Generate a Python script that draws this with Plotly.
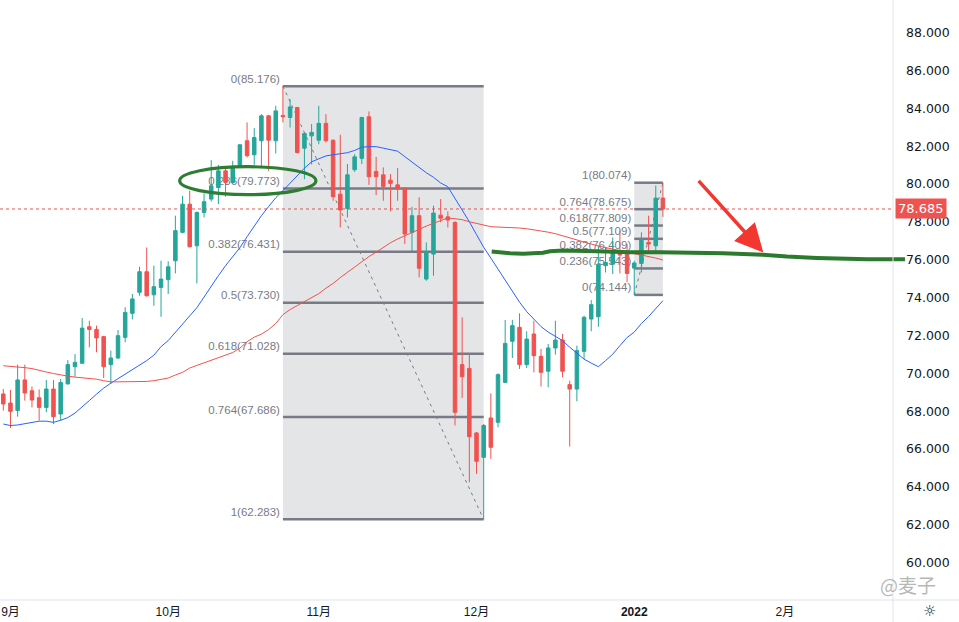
import numpy as np
import pandas as pd
import plotly.graph_objects as go

# ---------------- data ----------------
holidays = ["2021-12-24"]
dates = [d.strftime("%Y-%m-%d") for d in pd.bdate_range("2021-08-31", "2022-01-07")
         if d.strftime("%Y-%m-%d") not in holidays]

open_ = [68.91, 68.43, 68.03, 69.65, 69.08, 68.71, 68.20, 69.17, 67.85, 69.44,
         70.35, 70.53, 72.46, 72.32, 71.94, 70.46, 70.81, 71.90, 73.17, 74.28,
         75.37, 74.15, 74.54, 74.95, 75.95, 77.45, 78.94, 76.74, 78.50, 79.21,
         79.82, 80.70, 80.09, 80.92, 82.29, 81.55, 82.29, 83.61, 82.29, 83.63,
         83.52, 84.05, 81.90, 82.55, 82.32, 83.21, 82.32, 79.47, 78.71, 80.76,
         81.36, 83.56, 80.67, 80.49, 80.21, 79.96, 79.79, 77.45, 78.33, 74.98,
         76.30, 78.36, 78.27, 77.98, 70.46, 70.26, 66.85, 65.56, 67.64, 67.41,
         69.52, 71.69, 72.43, 70.46, 72.08, 70.90, 70.11, 71.34, 71.76, 69.40,
         69.17, 71.16, 72.87, 72.99, 75.69, 75.77, 76.43, 76.36, 75.56, 75.81,
         76.92, 76.74, 79.26]
high = [69.17, 69.12, 70.46, 70.46, 69.30, 69.15, 69.65, 69.65, 69.70, 70.70,
        71.02, 72.92, 72.78, 72.52, 71.98, 71.20, 72.29, 73.49, 74.19, 75.63,
        76.65, 75.69, 75.95, 75.92, 78.33, 79.38, 79.65, 78.55, 79.51, 81.27,
        81.02, 80.92, 81.23, 82.11, 83.26, 82.96, 83.70, 83.66, 84.14, 85.176,
        84.49, 84.08, 82.68, 83.17, 84.14, 83.70, 82.36, 82.61, 81.06, 81.58,
        83.56, 83.84, 81.44, 80.88, 80.53, 80.85, 79.79, 78.80, 79.30, 76.92,
        78.86, 79.21, 78.56, 78.03, 72.96, 71.02, 66.90, 67.32, 68.94, 70.00,
        72.82, 72.82, 73.17, 72.22, 72.78, 71.29, 71.55, 72.78, 72.08, 69.61,
        71.46, 73.05, 73.87, 76.74, 76.65, 77.18, 77.54, 76.83, 75.95, 77.45,
        78.33, 79.92, 80.074]
low = [68.03, 67.11, 67.71, 68.56, 68.20, 67.50, 67.94, 67.32, 67.50, 69.41,
       69.82, 70.53, 71.37, 71.11, 69.75, 69.44, 70.76, 71.64, 72.85, 74.10,
       74.05, 73.57, 72.99, 74.19, 75.28, 77.40, 76.65, 74.75, 78.24, 79.08,
       78.94, 79.33, 80.00, 80.85, 81.41, 81.02, 80.88, 80.70, 81.62, 83.26,
       82.99, 81.62, 80.26, 81.04, 82.11, 82.20, 79.12, 77.71, 78.24, 80.65,
       81.06, 79.96, 79.42, 79.12, 78.56, 79.12, 76.83, 76.39, 75.07, 74.89,
       75.16, 77.98, 77.71, 67.24, 68.70, 64.24, 64.68, 62.283, 65.48, 67.15,
       69.52, 70.81, 70.23, 70.28, 70.05, 69.30, 69.26, 70.99, 69.79, 66.13,
       68.52, 70.76, 72.22, 72.46, 75.33, 75.25, 75.28, 74.81, 74.144, 75.33,
       76.39, 76.36, 78.27]
close = [68.38, 67.99, 69.65, 68.96, 68.59, 68.20, 69.17, 67.71, 69.51, 70.46,
         70.58, 72.39, 72.32, 71.87, 70.35, 70.81, 71.99, 73.22, 73.93, 75.37,
         74.10, 74.58, 74.98, 75.63, 77.54, 78.94, 76.69, 78.50, 79.07, 79.91,
         80.70, 80.09, 80.92, 82.08, 81.50, 82.46, 83.61, 82.32, 83.87, 83.56,
         84.08, 81.67, 82.68, 82.73, 83.21, 82.29, 79.33, 78.63, 80.49, 81.44,
         83.52, 80.39, 80.39, 79.88, 80.04, 79.74, 77.36, 78.33, 75.55, 76.39,
         78.47, 78.20, 78.10, 67.94, 69.82, 66.65, 65.35, 67.24, 66.09, 69.93,
         71.58, 72.52, 70.46, 71.81, 70.93, 70.05, 71.34, 71.76, 70.11, 69.17,
         71.20, 72.96, 73.63, 75.77, 75.86, 76.48, 76.25, 75.28, 75.83, 77.04,
         76.83, 79.26, 78.685]

ma_fast = [67.32, 67.24, 67.27, 67.34, 67.42, 67.47, 67.47, 67.41, 67.52, 67.66,
           67.90, 68.21, 68.56, 68.90, 69.22, 69.48, 69.72, 69.95, 70.17, 70.40,
           70.67, 70.96, 71.41, 71.73, 72.18, 72.63, 73.05, 73.47, 74.03, 74.61,
           75.16, 75.69, 76.19, 76.64, 77.22, 77.78, 78.33, 78.81, 79.28, 79.65,
           80.05, 80.47, 80.84, 81.18, 81.34, 81.49, 81.55, 81.61, 81.66, 81.78,
           81.95, 81.98, 81.98, 81.90, 81.82, 81.74, 81.45, 81.16, 80.87, 80.60,
           80.36, 80.06, 79.86, 79.26, 78.67, 78.01, 77.33, 76.66, 76.09, 75.50,
           74.90, 74.34, 73.76, 73.26, 72.84, 72.47, 72.18, 71.97, 71.73, 71.38,
           71.04, 70.75, 70.54, 70.35, 70.67, 71.01, 71.46, 71.89, 72.18, 72.63,
           73.00, 73.42, 73.84]
ma_slow = [70.40, 70.38, 70.35, 70.30, 70.25, 70.14, 70.07, 69.99, 69.91, 69.85,
           69.80, 69.77, 69.75, 69.69, 69.61, 69.55, 69.55, 69.55, 69.55, 69.56,
           69.57, 69.61, 69.67, 69.75, 69.91, 70.05, 70.28, 70.41, 70.57, 70.67,
           70.80, 70.95, 71.10, 71.33, 71.67, 71.91, 72.07, 72.31, 72.63, 73.10,
           73.37, 73.58, 73.79, 73.97, 74.21, 74.50, 74.75, 75.06, 75.34, 75.64,
           75.90, 76.17, 76.40, 76.67, 76.90, 77.10, 77.27, 77.46, 77.64, 77.78,
           77.93, 78.09, 78.21, 78.17, 78.12, 78.01, 77.93, 77.83, 77.75, 77.73,
           77.72, 77.71, 77.68, 77.64, 77.59, 77.51, 77.46, 77.38, 77.27, 77.14,
           77.01, 76.90, 76.83, 76.73, 76.64, 76.56, 76.48, 76.40, 76.32, 76.25,
           76.18, 76.09, 75.99]

month_dates = ["2021-09-01", "2021-10-01", "2021-11-01", "2021-12-01", "2022-01-03", "2022-02-01"]
month_labels = ["9月", "10月", "11月", "12月", "<b>2022</b>", "2月"]
y_ticks = [60, 62, 64, 66, 68, 70, 72, 74, 76, 78, 80, 82, 84, 86, 88]

fib1_dates = ["2021-10-25", "2021-12-02"]
fib1_levels = ["0", "0.236", "0.382", "0.5", "0.618", "0.764", "1"]
fib1_prices = [85.176, 79.773, 76.431, 73.730, 71.028, 67.686, 62.283]

fib2_dates = ["2022-01-03", "2022-01-07"]
fib2_levels = ["1", "0.764", "0.618", "0.5", "0.382", "0.236", "0"]
fib2_prices = [80.074, 78.675, 77.809, 77.109, 76.409, 75.543, 74.144]

last_price = 78.685

# hand-drawn green stroke (x as fraction of the plot width, y as price)
green_x = [0.5506, 0.5711, 0.5857, 0.6081, 0.6159, 0.6305, 0.6685, 0.7055,
           0.7391, 0.8096, 0.8544, 0.8813, 0.9149, 0.9709, 1.0134]
green_y = [76.44, 76.35, 76.32, 76.37, 76.45, 76.49, 76.45, 76.40,
           76.40, 76.35, 76.26, 76.17, 76.10, 76.03, 76.03]

# ---------------- helpers ----------------
start = dates[0]


def bar_index(d):
    return int(np.busday_count(start, d, holidays=holidays))


xs = list(range(len(dates)))
tick_pos = [bar_index(d) for d in month_dates]

GREEN = "#26a69a"
RED = "#ef5350"
GRAY = "#787b86"
FONT = "Liberation Sans, Arial, Noto Sans CJK SC, sans-serif"
AXFONT = "DejaVu Sans, Noto Sans CJK SC, sans-serif"

fig = go.Figure()
fig.add_trace(go.Candlestick(
    x=xs, open=open_, high=high, low=low, close=close,
    increasing=dict(line=dict(color=GREEN, width=1), fillcolor=GREEN),
    decreasing=dict(line=dict(color=RED, width=1), fillcolor=RED),
    whiskerwidth=0, showlegend=False, hoverinfo="skip"))
fig.add_trace(go.Scatter(x=xs, y=ma_fast, mode="lines",
                         line=dict(color="#2962ff", width=1), showlegend=False, hoverinfo="skip"))
fig.add_trace(go.Scatter(x=xs, y=ma_slow, mode="lines",
                         line=dict(color="#f0524f", width=1), showlegend=False, hoverinfo="skip"))

shapes = []


def add_fib(dpair, levels, prices):
    xa, xb = bar_index(dpair[0]), bar_index(dpair[1])
    shapes.append(dict(type="rect", xref="x", yref="y", x0=xa, x1=xb,
                       y0=min(prices), y1=max(prices), line=dict(width=0),
                       fillcolor="rgba(120,123,134,0.2)", layer="below"))
    for lv, p in zip(levels, prices):
        shapes.append(dict(type="line", xref="x", yref="y", x0=xa, x1=xb, y0=p, y1=p,
                           line=dict(color=GRAY, width=2.5), layer="below",
                           label=dict(text=f"{lv}({p:.3f})", textposition="start",
                                      xanchor="right", yanchor="bottom", textangle=0,
                                      padding=3,
                                      font=dict(color=GRAY, size=11.5, family=FONT))))


add_fib(fib1_dates, fib1_levels, fib1_prices)
add_fib(fib2_dates, fib2_levels, fib2_prices)

# trend (diagonal) lines of the two fib tools
shapes.append(dict(type="line", xref="x", yref="y",
                   x0=bar_index(fib1_dates[0]), y0=fib1_prices[0],
                   x1=bar_index(fib1_dates[1]), y1=fib1_prices[-1],
                   line=dict(color=GRAY, width=1, dash="3px,4px"), layer="below"))
shapes.append(dict(type="line", xref="x", yref="y",
                   x0=bar_index(fib2_dates[0]), y0=fib2_prices[-1],
                   x1=bar_index(fib2_dates[1]), y1=fib2_prices[0],
                   line=dict(color=GRAY, width=1, dash="3px,4px"), layer="below"))

# last price dotted line
shapes.append(dict(type="line", xref="paper", yref="y", x0=0, x1=1, y0=last_price, y1=last_price,
                   line=dict(color=RED, width=1, dash="dot"), layer="below"))

# green ellipse around the 0.236 label
shapes.append(dict(type="circle", xref="x", yref="y", x0=24.6, x1=43.6, y0=79.44, y1=80.92,
                   line=dict(color="#2e7d32", width=3.2), layer="above"))

# hand drawn green stroke
path = "M " + " L ".join(f"{x},{y}" for x, y in zip(green_x, green_y))
shapes.append(dict(type="path", xref="paper", yref="y", path=path,
                   line=dict(color="#2b7a2e", width=4), layer="above"))

# scale borders
shapes.append(dict(type="line", xref="paper", yref="paper", x0=1, x1=1, y0=-22 / 600, y1=1,
                   line=dict(color="#e0e3eb", width=1), layer="above"))
shapes.append(dict(type="line", xref="paper", yref="paper", x0=0, x1=959 / 893, y0=0, y1=0,
                   line=dict(color="#e0e3eb", width=1), layer="above"))

annotations = [
    dict(x=1.0022, xref="paper", y=last_price, yref="y", text=f"{last_price:.3f}",
         showarrow=False, xanchor="left", yanchor="middle", bgcolor=RED,
         font=dict(color="white", size=13, family=AXFONT), borderpad=2),
    dict(x=106.0, xref="x", y=76.39, yref="y", ax=-66, ay=-73, axref="pixel", ayref="pixel",
         showarrow=True, arrowhead=2, arrowsize=1.6, arrowwidth=3.5, arrowcolor="#f23630", text=""),
    dict(x=908 / 893, xref="paper", y=16 / 600, yref="paper", text="@麦子", showarrow=False,
         font=dict(color="rgba(110,110,110,0.5)", size=19, family="Noto Sans CJK SC"),
         xanchor="center", yanchor="middle"),
    dict(x=930 / 893, xref="paper", y=-11 / 600, yref="paper", text="☼", showarrow=False,
         font=dict(color="#131722", size=15, family="DejaVu Sans"), xanchor="center", yanchor="middle"),
]

fig.update_layout(
    width=959, height=622,
    margin=dict(l=0, r=66, t=0, b=22),
    paper_bgcolor="white", plot_bgcolor="white",
    shapes=shapes, annotations=annotations,
    showlegend=False,
    xaxis=dict(range=[-0.46, 124.09], rangeslider=dict(visible=False), showgrid=False,
               zeroline=False, showline=False, tickvals=tick_pos, ticktext=month_labels,
               ticks="", ticklabelstandoff=3,
               tickfont=dict(size=12, color="#131722", family=FONT)),
    yaxis=dict(range=[58.02, 89.73], side="right", showgrid=False, zeroline=False,
               showline=False, tickvals=y_ticks, tickformat=".3f", ticks="",
               ticklabelstandoff=12,
               tickfont=dict(size=12.5, color="#131722", family=AXFONT)),
)

fig.write_html("out.html")
